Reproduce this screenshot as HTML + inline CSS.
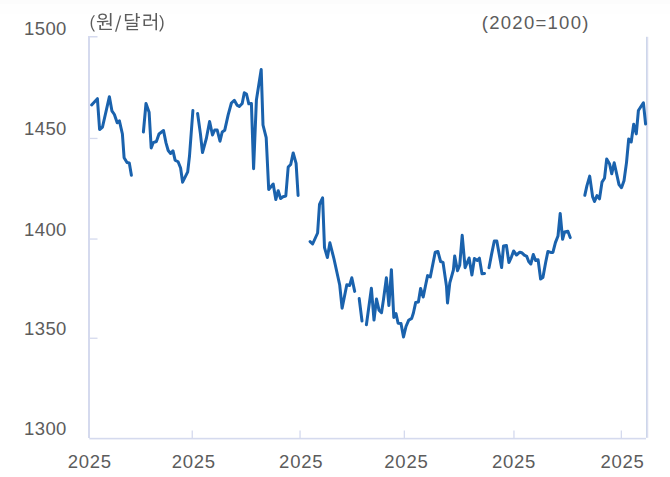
<!DOCTYPE html>
<html lang="ko">
<head>
<meta charset="utf-8">
<title>원/달러 환율</title>
<style>
html,body{margin:0;padding:0;background:#fff;}
body{width:670px;height:477px;position:relative;overflow:hidden;font-family:"Liberation Sans",sans-serif;color:#5a5a5a;}
.band1{position:absolute;left:0;top:0;width:670px;height:4px;background:#fcfcfc;}
.band2{position:absolute;left:0;top:4px;width:670px;height:10px;background:#fefefe;}
svg{position:absolute;left:0;top:0;}
.lbl{position:absolute;font-size:18.5px;line-height:19px;letter-spacing:0.75px;white-space:nowrap;color:#5c5c5c;}
.yl{left:24px;letter-spacing:0.4px;}
.xl{width:80px;text-align:center;top:451.5px;}
</style>
</head>
<body>
<div class="band1"></div><div class="band2"></div>
<svg width="670" height="477" viewBox="0 0 670 477">
<g fill="#d5daee">
<rect x="88" y="36.2" width="2" height="401.8"/>
<rect x="89.3" y="437.8" width="556.7" height="1.6"/>
<rect x="646" y="36.8" width="1" height="401" fill="#cdd7ea"/><rect x="647" y="36.8" width="1" height="401" fill="#dcdef0"/><rect x="648" y="36.8" width="1" height="401" fill="#f6f7fb"/>
<rect x="88" y="36" width="9.5" height="1.5"/>
<rect x="191.6" y="430.5" width="1.3" height="8" /><rect x="299.4" y="430.5" width="1.3" height="8" /><rect x="403.7" y="430.5" width="1.3" height="8" /><rect x="513.3" y="430.5" width="1.3" height="8" /><rect x="620.7" y="430.5" width="1.3" height="8" /><rect x="90" y="137.8" width="7.5" height="1.3" /><rect x="90" y="238.4" width="7.5" height="1.3" /><rect x="90" y="337.6" width="7.5" height="1.3" />
</g>
<g fill="none" stroke="#1a62ad" stroke-width="3" stroke-linejoin="round" stroke-linecap="round">
<polyline points="91.6,105.0 97.4,98.7 99.6,129.5 102.5,127.0 109.4,96.7 111.9,110.8 114.4,114.5 117.2,122.8 119.4,120.8 122.4,134.0 124.1,157.7 127.0,162.5 129.3,163.0 131.4,175.3"/>
<polyline points="143.4,132.0 146.0,103.5 149.1,112.2 151.2,148.0 153.2,142.7 156.4,141.5 159.0,134.0 163.5,130.5 166.0,142.9 168.2,150.5 170.6,153.5 173.0,150.8 175.1,160.2 178.1,161.8 180.6,168.0 182.6,182.2 187.7,171.9 189.5,156.0 192.9,110.5"/>
<polyline points="197.6,113.5 200.4,133.6 202.5,152.5 206.3,138.7 209.6,121.5 212.5,135.0 214.7,130.0 217.2,130.0 220.0,141.2 222.2,132.0 224.7,130.3 228.1,115.2 231.4,103.0 234.3,100.3 237.0,105.1 239.3,106.5 242.2,103.5 244.3,92.8 246.5,94.0 248.8,103.8 251.4,103.4 253.6,168.7 256.4,100.0 261.2,69.5 263.0,125.0 266.2,137.7 268.7,189.5 273.2,184.0 275.8,199.5 278.2,190.7 280.6,198.5 283.0,196.7 285.8,196.0 288.2,167.0 290.7,164.5 293.2,152.9 296.1,163.3 298.1,195.5"/>
<polyline points="310.1,241.6 312.6,244.0 317.6,233.0 319.5,204.5 322.6,197.8 324.5,247.6 327.4,257.5 329.9,242.8 334.0,259.0 339.7,285.0 342.1,308.2 346.8,284.8 349.6,285.5 351.8,277.8 354.7,291.4"/>
<polyline points="359.2,298.6 362.0,321.0"/>
<polyline points="366.4,324.7 371.4,288.3 374.0,320.1 376.5,299.0 379.0,310.2 381.5,312.7 383.4,300.1 386.4,277.8 388.9,305.5 391.4,269.7 393.8,317.5 396.0,313.5 398.1,323.2 401.0,323.4 403.5,337.0 406.0,326.5 408.6,320.3 411.7,318.4 413.4,313.0 415.7,302.4 418.4,302.0 420.6,288.5 423.2,297.0 425.7,284.7 427.6,275.6 430.3,277.0 435.2,252.3 437.9,251.5 440.6,261.5 443.0,262.3 446.5,286.4 447.5,303.0 449.8,282.8 453.4,270.0 454.7,256.0 457.5,270.7 459.7,265.3 462.2,235.3 465.1,267.7 469.1,258.0 471.9,275.1 474.4,258.5 477.3,260.5 479.4,258.2 482.0,273.8 484.5,273.4"/>
<polyline points="489.0,267.8 491.5,254.6 494.3,241.0 496.8,241.0 501.6,267.5 503.5,246.0 506.4,245.4 508.9,262.5 511.4,257.1 513.6,251.0 516.5,255.0 519.8,252.2 521.7,252.7 524.3,255.2 526.8,256.4 528.7,261.5 530.8,264.0 533.3,254.5 535.6,260.5 538.1,259.8 540.6,279.0 542.9,277.5 545.6,262.7 547.9,251.5 550.7,252.4 552.9,252.4 555.4,242.6 558.0,236.0 560.2,213.5 562.6,239.3 564.5,232.0 567.9,231.2 570.2,237.6"/>
<polyline points="584.8,195.3 586.9,185.9 589.7,176.1 592.6,196.6 594.5,201.5 597.0,195.6 599.5,198.8 602.0,182.1 604.5,178.3 606.7,159.0 609.6,164.0 611.7,173.8 614.2,162.8 619.0,184.6 621.5,187.7 624.0,180.8 626.5,162.6 628.7,139.0 631.2,142.0 633.7,124.2 636.3,133.9 638.4,110.5 643.4,102.8 645.6,124.0"/>
</g>
<g fill="#5c5c5c" aria-label="(원/달러)">
<path transform="translate(96.80,30.10) scale(0.01969,-0.01946) translate(-45,58)" d="M339 790C207 790 117 727 117 632C117 536 207 475 339 475C471 475 561 536 561 632C561 727 471 790 339 790ZM339 728C423 728 482 690 482 632C482 574 423 537 339 537C254 537 195 574 195 632C195 690 254 728 339 728ZM56 340C130 340 216 341 306 344V170H389V349C471 354 555 362 634 375L628 435C436 411 212 409 45 408ZM523 292V232H707V139H790V826H707V292ZM173 206V-58H812V10H256V206Z"/>
<path transform="translate(124.90,30.20) scale(0.01899,-0.01926) translate(-90,66)" d="M90 775V405H160C346 405 456 410 583 437L573 503C452 479 347 472 172 472V708H489V775ZM669 827V372H752V568H885V637H752V827ZM180 2V-66H784V2H261V102H752V326H178V259H670V166H180Z"/>
<path transform="translate(143.40,30.20) scale(0.01910,-0.01898) translate(-81,79)" d="M539 480V411H711V-79H793V827H711V480ZM81 743V675H404V494H84V138H153C315 138 431 144 566 168L559 237C430 213 318 208 166 208V426H485V743Z"/>
<path transform="translate(90.60,31.70) scale(0.01870,-0.01650) translate(-153,150)" d="M153 359Q153 648 327 868L383 837Q352 789 341.0 771.0Q330 753 303.0 699.5Q276 646 264.5 605.0Q253 564 242.0 497.5Q231 431 231 359Q231 271 243.5 197.5Q256 124 283.0 62.5Q310 1 329.0 -32.5Q348 -66 383 -119L327 -150Q250 -50 201.5 70.5Q153 191 153 359Z"/>
<path transform="translate(115.00,31.70) scale(0.01676,-0.01887) translate(13,57)" d="M-13 -57 275 796H357L69 -57Z"/>
<path transform="translate(159.20,31.70) scale(0.01913,-0.01650) translate(-71,150)" d="M71 -119Q146 -9 184.5 99.0Q223 207 223 359Q223 445 211.0 517.0Q199 589 173.0 650.0Q147 711 127.0 747.0Q107 783 71 837L127 868Q301 647 301 359Q301 193 253.0 72.0Q205 -49 127 -150Z"/>
</g>
</svg>
<div class="lbl yl" style="top:19.0px">1500</div>
<div class="lbl yl" style="top:119.0px">1450</div>
<div class="lbl yl" style="top:220.0px">1400</div>
<div class="lbl yl" style="top:319.0px">1350</div>
<div class="lbl yl" style="top:419.0px">1300</div>
<div class="lbl xl" style="left:49.8px">2025</div>
<div class="lbl xl" style="left:153.8px">2025</div>
<div class="lbl xl" style="left:261.2px">2025</div>
<div class="lbl xl" style="left:366.4px">2025</div>
<div class="lbl xl" style="left:474.0px">2025</div>
<div class="lbl xl" style="left:582.5px">2025</div>
<div class="lbl" style="left:481.8px;top:12px;transform:translateY(0.5px);letter-spacing:1.27px">(2020=100)</div>
</body>
</html>
